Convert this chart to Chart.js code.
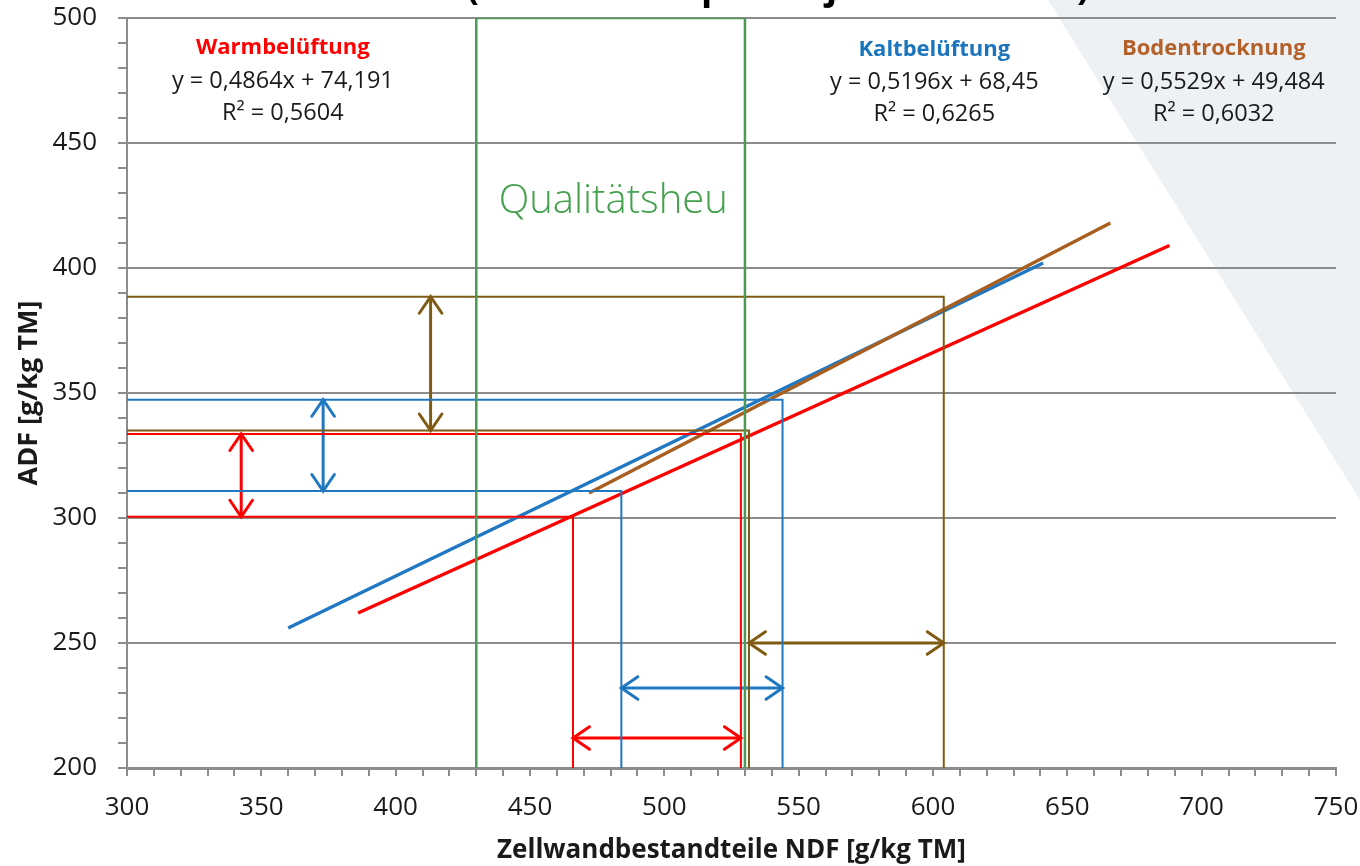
<!DOCTYPE html>
<html>
<head>
<meta charset="utf-8">
<style>
  html, body { margin: 0; padding: 0; background: #ffffff; }
  canvas { display: block; }
</style>
<script src="https://cdn.jsdelivr.net/npm/chart.js@4.4.0/dist/chart.umd.min.js"></script>
</head>
<body>
<canvas id="heuChart" width="1360" height="866"></canvas>
<script>
  // Achsen-Beschriftungen
  const ndfTicks = [300, 350, 400, 450, 500, 550, 600, 650, 700, 750];
  const adfTicks = [200, 250, 300, 350, 400, 450, 500];

  // Regressionsgeraden (Anfang / Ende)
  const warmTrendX = [386, 688];
  const warmTrendY = [262, 409];
  const kaltTrendX = [360, 641];
  const kaltTrendY = [256, 402];
  const bodenTrendX = [472, 666];
  const bodenTrendY = [310, 418];

  // Qualitätsheu-Bereich
  const qualiX = [430, 430, 530, 530];
  const qualiY = [200, 500, 500, 200];

  // Hilfslinien (Spannweite je Verfahren)
  const warmLowX = [300, 466, 466];
  const warmLowY = [300.5, 300.5, 200];
  const warmHighX = [300, 528.5, 528.5];
  const warmHighY = [333.6, 333.6, 200];
  const kaltLowX = [300, 484, 484];
  const kaltLowY = [310.8, 310.8, 200];
  const kaltHighX = [300, 544, 544];
  const kaltHighY = [347.3, 347.3, 200];
  const bodenLowX = [300, 531.5, 531.5];
  const bodenLowY = [335, 335, 200];
  const bodenHighX = [300, 604, 604];
  const bodenHighY = [388.5, 388.5, 200];

  // Doppelpfeile
  const warmArrowVX = [342.5, 342.5];
  const warmArrowVY = [300.5, 333.6];
  const kaltArrowVX = [373, 373];
  const kaltArrowVY = [310.8, 347.3];
  const bodenArrowVX = [413, 413];
  const bodenArrowVY = [335, 388.5];
  const warmArrowHX = [466, 528.5];
  const warmArrowHY = [212, 212];
  const kaltArrowHX = [484, 544];
  const kaltArrowHY = [232, 232];
  const bodenArrowHX = [531.5, 604];
  const bodenArrowHY = [250, 250];

  const RED = '#ff0000';
  const BLUE = '#1f78c1';
  const BROWN = '#7f5b14';
  const BROWN_TREND = '#a85f20';
  const GREEN = '#4a9a55';
  const GRAY = '#8c8c8c';
  const FONT = "'Open Sans', 'DejaVu Sans', sans-serif";

  const pts = (xs, ys) => xs.map((x, i) => ({ x: x, y: ys[i] }));

  function line(xs, ys, color, width, arrow) {
    return {
      data: pts(xs, ys),
      borderColor: color,
      borderWidth: width,
      showLine: true,
      pointRadius: 0,
      fill: false,
      tension: 0,
      arrow: !!arrow
    };
  }

  // Hintergrund-Dreieck und abgeschnittener Titel
  const backgroundPlugin = {
    id: 'background',
    beforeDraw(chart) {
      const ctx = chart.ctx;
      ctx.save();
      ctx.fillStyle = '#edf1f4';
      ctx.beginPath();
      ctx.moveTo(1048, 0);
      ctx.lineTo(1360, 0);
      ctx.lineTo(1360, 500);
      ctx.closePath();
      ctx.fill();
      ctx.restore();
    },
    afterDraw(chart) {
      const ctx = chart.ctx;
      ctx.save();
      const text = '(Heuwerte: Spanne je Betriebsart)';
      let size = 34;
      ctx.font = 'bold ' + size + 'px ' + FONT;
      size = size * 623 / ctx.measureText(text).width;
      ctx.font = 'bold ' + size + 'px ' + FONT;
      ctx.fillStyle = '#000000';
      ctx.textAlign = 'center';
      ctx.textBaseline = 'alphabetic';
      ctx.fillText(text, 778, -1);
      ctx.restore();
    }
  };

  // Pfeilspitzen an beiden Enden
  const arrowPlugin = {
    id: 'arrowHeads',
    afterDatasetsDraw(chart) {
      const ctx = chart.ctx;
      chart.data.datasets.forEach((ds, i) => {
        if (!ds.arrow) return;
        const els = chart.getDatasetMeta(i).data;
        const a = els[0], b = els[els.length - 1];
        ctx.save();
        ctx.strokeStyle = ds.borderColor;
        ctx.lineWidth = ds.borderWidth;
        ctx.lineCap = 'round';
        const head = (p, q) => {
          const ang = Math.atan2(p.y - q.y, p.x - q.x);
          const L = 20, spread = 0.6;
          ctx.beginPath();
          ctx.moveTo(p.x - L * Math.cos(ang - spread), p.y - L * Math.sin(ang - spread));
          ctx.lineTo(p.x, p.y);
          ctx.lineTo(p.x - L * Math.cos(ang + spread), p.y - L * Math.sin(ang + spread));
          ctx.stroke();
        };
        head(b, a);
        head(a, b);
        ctx.restore();
      });
    }
  };

  // Beschriftungen (Datenkoordinaten)
  const labels = [
    { x: 358, y: 488, lines: ['Warmbelüftung', 'y = 0,4864x + 74,191', 'R² = 0,5604'], color: RED },
    { x: 600.5, y: 487.3, lines: ['Kaltbelüftung', 'y = 0,5196x + 68,45', 'R² = 0,6265'], color: '#1a75bc' },
    { x: 704.5, y: 487.6, lines: ['Bodentrocknung', 'y = 0,5529x + 49,484', 'R² = 0,6032'], color: '#b3612a' }
  ];

  const labelPlugin = {
    id: 'equationLabels',
    afterDatasetsDraw(chart) {
      const ctx = chart.ctx;
      const xs = chart.scales.x, ys = chart.scales.y;
      ctx.save();
      ctx.textAlign = 'center';
      ctx.textBaseline = 'middle';
      labels.forEach(l => {
        const px = xs.getPixelForValue(l.x);
        const py = ys.getPixelForValue(l.y);
        ctx.fillStyle = l.color;
        ctx.font = 'bold 22px ' + FONT;
        ctx.fillText(l.lines[0], px, py);
        ctx.fillStyle = '#1a1a1a';
        ctx.font = '23.5px ' + FONT;
        ctx.fillText(l.lines[1], px, py + 33);
        ctx.fillText(l.lines[2], px, py + 65);
      });
      ctx.fillStyle = '#43a04b';
      ctx.font = '300 40px ' + FONT;
      ctx.fillText('Qualitätsheu', xs.getPixelForValue(481), ys.getPixelForValue(426.5));
      ctx.restore();
    }
  };

  const ctx = document.getElementById('heuChart').getContext('2d');
  new Chart(ctx, {
    type: 'scatter',
    data: {
      datasets: [
        line(qualiX, qualiY, GREEN, 2.5),
        line(bodenHighX, bodenHighY, BROWN, 2),
        line(bodenLowX, bodenLowY, BROWN, 2),
        line(kaltHighX, kaltHighY, BLUE, 2),
        line(kaltLowX, kaltLowY, BLUE, 2),
        line(warmHighX, warmHighY, RED, 2),
        line(warmLowX, warmLowY, RED, 2),
        line(bodenArrowVX, bodenArrowVY, BROWN, 3, true),
        line(kaltArrowVX, kaltArrowVY, BLUE, 3, true),
        line(warmArrowVX, warmArrowVY, RED, 3, true),
        line(bodenArrowHX, bodenArrowHY, BROWN, 3, true),
        line(kaltArrowHX, kaltArrowHY, BLUE, 3, true),
        line(warmArrowHX, warmArrowHY, RED, 3, true),
        line(bodenTrendX, bodenTrendY, BROWN_TREND, 3.5),
        line(kaltTrendX, kaltTrendY, BLUE, 3.5),
        line(warmTrendX, warmTrendY, RED, 3.5)
      ]
    },
    options: {
      responsive: false,
      animation: false,
      layout: { padding: 0 },
      plugins: {
        legend: { display: false },
        tooltip: { enabled: false }
      },
      scales: {
        x: {
          type: 'linear',
          min: 300,
          max: 750,
          afterFit: s => {
            s.height = 98;
            s.paddingLeft = 0;
            s.paddingRight = 24;
          },
          ticks: {
            stepSize: 10,
            autoSkip: false,
            maxRotation: 0,
            padding: 16,
            color: '#1a1a1a',
            font: { family: FONT, size: 26 },
            callback: v => ndfTicks.includes(v) ? String(v) : ''
          },
          grid: {
            drawOnChartArea: false,
            tickColor: GRAY,
            tickLength: 8,
            lineWidth: 2
          },
          border: { color: GRAY, width: 3 },
          title: {
            display: true,
            text: 'Zellwandbestandteile NDF [g/kg TM]',
            color: '#1a1a1a',
            font: { family: FONT, size: 26, weight: 'bold' },
            padding: { top: 0, bottom: 0 }
          }
        },
        y: {
          type: 'linear',
          min: 200,
          max: 500,
          afterFit: s => {
            s.width = 127;
            s.paddingTop = 18;
            s.paddingBottom = 0;
          },
          ticks: {
            stepSize: 10,
            autoSkip: false,
            padding: 21,
            color: '#1a1a1a',
            font: { family: FONT, size: 26 },
            callback: v => adfTicks.includes(v) ? String(v) : ''
          },
          grid: {
            color: c => (c.tick && adfTicks.includes(c.tick.value)) ? GRAY : 'rgba(0,0,0,0)',
            tickColor: GRAY,
            tickLength: 9,
            lineWidth: 2
          },
          border: { color: GRAY, width: 2 },
          title: {
            display: true,
            text: 'ADF [g/kg TM]',
            color: '#1a1a1a',
            font: { family: FONT, size: 27, weight: 'bold' },
            padding: { top: 13, bottom: 0 }
          }
        }
      }
    },
    plugins: [backgroundPlugin, arrowPlugin, labelPlugin]
  });
</script>
</body>
</html>
